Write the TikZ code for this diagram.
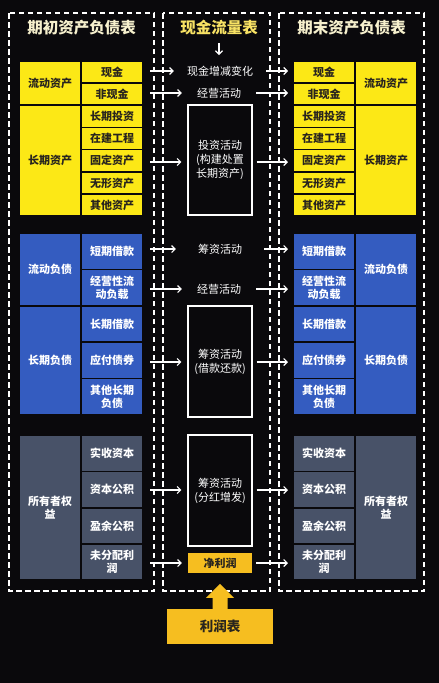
\documentclass[tikz,border=0pt]{standalone}
\usepackage{fontspec}
\setmainfont{Noto Sans CJK SC}
\usetikzlibrary{arrows.meta,calc}
\definecolor{bg}{RGB}{10,9,12}
\definecolor{yel}{RGB}{252,232,22}
\definecolor{blu}{RGB}{52,92,192}
\definecolor{gry}{RGB}{72,82,104}
\definecolor{amb}{RGB}{246,190,32}
\definecolor{ttl}{RGB}{246,240,205}
\definecolor{ttly}{RGB}{248,226,100}
\definecolor{dk}{RGB}{40,36,30}
\newcommand\mkcell[7]{\node[#1, minimum width={#5-#3}, minimum height={#6-#4}] (#2) at ({(#3+#5)/2},{(#4+#6)/2}) {#7};}
\tikzset{
  cellbase/.style={draw=bg, line width=1.2pt, inner sep=1pt, align=center, font=\bfseries\fontsize{11}{13}\selectfont},
  ycell/.style={cellbase, fill=yel, text=dk},
  bcell/.style={cellbase, fill=blu, text=white},
  gcell/.style={cellbase, fill=gry, text=white},
  dbox/.style={draw=white, dash pattern=on 5.5pt off 3.5pt, line width=1.4pt},
  arr/.style={draw=white, line width=1.1pt, -{Straight Barb[length=3.5pt,width=7pt]}},
  midtxt/.style={text=white, inner xsep=15pt, inner ysep=1pt, font=\fontsize{11}{13}\selectfont},
  actbox/.style={draw=white, line width=1.3pt, text=white, align=center, font=\fontsize{11}{14}\selectfont},
  ttlstyle/.style={font=\bfseries\fontsize{15.5}{18}\selectfont, text=ttl},
  ambbox/.style={fill=amb, text=dk, font=\bfseries\fontsize{11}{12}\selectfont},
}
\begin{document}
\begin{tikzpicture}[x=1pt,y=-1pt]
\fill[bg] (0,0) rectangle (439,683);
\useasboundingbox (0,0) rectangle (439,683);

% dashed frames
\draw[dbox] (9,13) rectangle (154,591);
\draw[dbox] (163,13) rectangle (270,591);
\draw[dbox] (279,13) rectangle (424,591);

% titles
\node[ttlstyle] (tl) at (81.5,28) {期初资产负债表};
\node[ttlstyle, text=ttly] (tm) at (219,28) {现金流量表};
\node[ttlstyle] (tr) at (351.5,28) {期末资产负债表};
\coordinate (tmarr) at (219,55);
\draw[arr] ([yshift=-4pt]tm.south) -- (tmarr);

% ---------- left side ----------
\mkcell{ycell}{lg1}{19}{61}{81}{105}{流动资产}
\mkcell{ycell}{lg2}{19}{105}{81}{216}{长期资产}
\mkcell{ycell}{la1}{81}{61}{143}{83}{现金}
\mkcell{ycell}{la2}{81}{83}{143}{105}{非现金}
\mkcell{ycell}{la3}{81}{105}{143}{127.5}{长期投资}
\mkcell{ycell}{la4}{81}{127.5}{143}{149.5}{在建工程}
\mkcell{ycell}{la5}{81}{149.5}{143}{172}{固定资产}
\mkcell{ycell}{la6}{81}{172}{143}{194}{无形资产}
\mkcell{ycell}{la7}{81}{194}{143}{216}{其他资产}

\mkcell{bcell}{lg3}{19}{233}{81}{306}{流动负债}
\mkcell{bcell}{lg4}{19}{306}{81}{415}{长期负债}
\mkcell{bcell}{lb1}{81}{233}{143}{269.5}{短期借款}
\mkcell{bcell}{lb2}{81}{269.5}{143}{306}{经营性流\\动负载}
\mkcell{bcell}{lb3}{81}{306}{143}{342}{长期借款}
\mkcell{bcell}{lb4}{81}{342}{143}{378.5}{应付债券}
\mkcell{bcell}{lb5}{81}{378.5}{143}{415}{其他长期\\负债}

\mkcell{gcell}{lg5}{19}{435}{81}{580}{所有者权\\益}
\mkcell{gcell}{lc1}{81}{435}{143}{471.5}{实收资本}
\mkcell{gcell}{lc2}{81}{471.5}{143}{508}{资本公积}
\mkcell{gcell}{lc3}{81}{508}{143}{544}{盈余公积}
\mkcell{gcell}{lc4}{81}{544}{143}{580}{未分配利\\润}

% ---------- right side ----------
\mkcell{ycell}{rg1}{355}{61}{417}{105}{流动资产}
\mkcell{ycell}{rg2}{355}{105}{417}{216}{长期资产}
\mkcell{ycell}{ra1}{293}{61}{355}{83}{现金}
\mkcell{ycell}{ra2}{293}{83}{355}{105}{非现金}
\mkcell{ycell}{ra3}{293}{105}{355}{127.5}{长期投资}
\mkcell{ycell}{ra4}{293}{127.5}{355}{149.5}{在建工程}
\mkcell{ycell}{ra5}{293}{149.5}{355}{172}{固定资产}
\mkcell{ycell}{ra6}{293}{172}{355}{194}{无形资产}
\mkcell{ycell}{ra7}{293}{194}{355}{216}{其他资产}

\mkcell{bcell}{rg3}{355}{233}{417}{306}{流动负债}
\mkcell{bcell}{rg4}{355}{306}{417}{415}{长期负债}
\mkcell{bcell}{rb1}{293}{233}{355}{269.5}{短期借款}
\mkcell{bcell}{rb2}{293}{269.5}{355}{306}{经营性流\\动负载}
\mkcell{bcell}{rb3}{293}{306}{355}{342}{长期借款}
\mkcell{bcell}{rb4}{293}{342}{355}{378.5}{应付债券}
\mkcell{bcell}{rb5}{293}{378.5}{355}{415}{其他长期\\负债}

\mkcell{gcell}{rg5}{355}{435}{417}{580}{所有者权\\益}
\mkcell{gcell}{rc1}{293}{435}{355}{471.5}{实收资本}
\mkcell{gcell}{rc2}{293}{471.5}{355}{508}{资本公积}
\mkcell{gcell}{rc3}{293}{508}{355}{544}{盈余公积}
\mkcell{gcell}{rc4}{293}{544}{355}{580}{未分配利\\润}

% ---------- middle ----------
\node[midtxt, inner xsep=13pt] (m1) at (220,71) {现金增减变化};
\node[midtxt, inner xsep=15pt] (m2) at (219,93) {经营活动};
\node[midtxt, inner xsep=22pt] (m3) at (220,249) {筹资活动};
\node[midtxt, inner xsep=15pt] (m4) at (219,289) {经营活动};

\mkcell{actbox}{b1}{188}{105}{252}{215}{投资活动\\(构建处置\\长期资产)}
\mkcell{actbox}{b2}{188}{306}{252}{417}{筹资活动\\(借款还款)}
\mkcell{actbox}{b3}{188}{435}{252}{546}{筹资活动\\(分红增发)}
\mkcell{ambbox}{np}{188}{553}{252}{573}{净利润}
\mkcell{ambbox, font=\bfseries\fontsize{13.5}{15}\selectfont}{pl}{167}{609}{273}{644}{利润表}

% free ends of arrows
\foreach \n/\y in {1/71,2/93,3/162,4/249,5/289,6/362,7/490,8/563}{
  \coordinate (L\n) at (150,\y);
  \coordinate (R\n) at (288,\y);
}
\draw[arr] (L1) -- (m1.west);  \draw[arr] (m1.east) -- (R1);
\draw[arr] (L2) -- (m2.west);  \draw[arr] (m2.east) -- (R2);
\draw[arr, shorten >=6pt] (L3) -- (L3 -| b1.west);  \draw[arr, shorten <=4pt] (R3 -| b1.east) -- (R3);
\draw[arr] (L4) -- (m3.west);  \draw[arr] (m3.east) -- (R4);
\draw[arr] (L5) -- (m4.west);  \draw[arr] (m4.east) -- (R5);
\draw[arr, shorten >=6pt] (L6) -- (L6 -| b2.west);  \draw[arr, shorten <=4pt] (R6 -| b2.east) -- (R6);
\draw[arr, shorten >=6pt] (L7) -- (L7 -| b3.west);  \draw[arr, shorten <=4pt] (R7 -| b3.east) -- (R7);
\draw[arr, shorten >=6pt] (L8) -- (np.west);  \draw[arr, shorten <=4pt] (np.east) -- (R8);

% block arrow from 利润表 up
\fill[amb] ([xshift=-7.5pt]pl.north) -- ++(0,-11) -- ++(-6.5,0) -- ($(pl.north)+(0,-25)$) -- ($(pl.north)+(14,-11)$) -- ++(-6.5,0) -- ([xshift=7.5pt]pl.north) -- cycle;
\end{tikzpicture}
\end{document}
